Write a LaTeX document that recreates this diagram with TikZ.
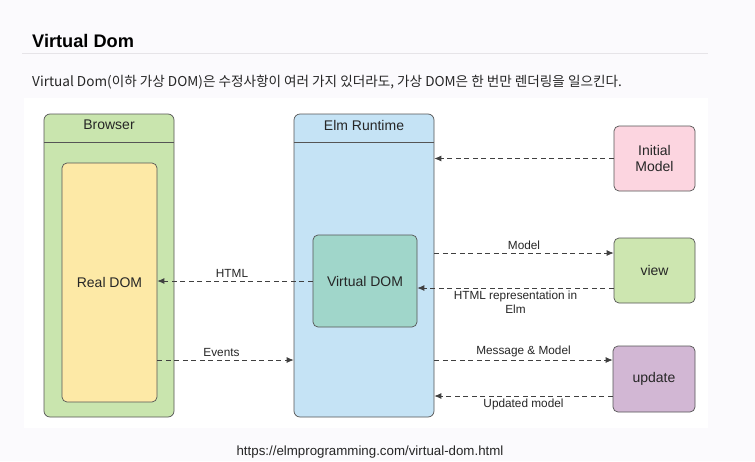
\documentclass[tikz,border=0pt]{standalone}
\usepackage{fontspec}
\setmainfont{Liberation Sans}
\newfontfamily\krfont{Noto Sans CJK KR}
\usetikzlibrary{arrows.meta}
\definecolor{pagebg}{HTML}{FBFAFD}
\definecolor{rulegray}{HTML}{E6E4E8}
\definecolor{edgecol}{HTML}{555555}
\definecolor{browsercol}{HTML}{C9E5AE}
\definecolor{realcol}{HTML}{FDE9A6}
\definecolor{runtimecol}{HTML}{C5E3F5}
\definecolor{vdomcol}{HTML}{A0D6CA}
\definecolor{initcol}{HTML}{FCD5E0}
\definecolor{viewcol}{HTML}{CDE6B0}
\definecolor{updatecol}{HTML}{D2B7D4}

\begin{document}
\begin{tikzpicture}[x=1pt, y=-1pt,
    box/.style={draw=edgecol, line width=0.7pt, rounded corners=5pt, align=center,
                font=\fontsize{14}{16.5}\selectfont, text=black!85},
    panel/.style={box, rounded corners=6pt},
    flow/.style={draw=black!75, line width=0.8pt, dash pattern=on 5pt off 3.5pt,
                 -{Latex[length=7pt,width=6pt]}},
    lbl/.style={font=\fontsize{11.8}{13.5}\selectfont, text=black!85, align=center, inner sep=2pt},
    ]
    % page and sheet
    \fill[pagebg] (0,0) rectangle (755,461);
    \fill[white] (24,98) rectangle (708,428);
    \useasboundingbox (0,0) rectangle (755,461);

    % heading
    \node[anchor=base west, font=\fontsize{18.2}{21}\bfseries\selectfont, inner sep=0pt] (title) at (32,47) {Virtual Dom};
    \draw[rulegray, line width=0.8pt] (22,53.5) -- (708,53.5);
    \node[anchor=base west, inner sep=0pt, font=\krfont\fontsize{13.6}{16}\selectfont, text=black!85] (intro) at (32,86)
        {Virtual Dom(이하 가상 DOM)은 수정사항이 여러 가지 있더라도, 가상 DOM은 한 번만 렌더링을 일으킨다.};

    % containers
    \node[panel, fill=browsercol, minimum width=130pt, minimum height=303pt] (browser) at (109,265.5) {};
    \node[box, draw=none, anchor=north] at (browser.north) [yshift=-3pt] {Browser};
    \draw[edgecol, line width=0.7pt] (browser.west |- 0,142) -- (browser.east |- 0,142);

    \node[panel, fill=runtimecol, minimum width=140pt, minimum height=303pt] (runtime) at (364,265.5) {};
    \node[box, draw=none, anchor=north] at (runtime.north) [yshift=-3pt] {Elm Runtime};
    \draw[edgecol, line width=0.7pt] (runtime.west |- 0,142) -- (runtime.east |- 0,142);

    % inner boxes
    \node[box, fill=realcol, minimum width=95pt, minimum height=239pt] (realdom) at (109.5,282.5) {Real DOM};
    \node[box, fill=vdomcol, minimum width=104pt, minimum height=92pt] (vdom) at (365,281) {Virtual DOM};

    % program parts
    \node[box, fill=initcol, minimum width=81pt, minimum height=65pt] (init) at (654.5,158.5) {Initial\\Model};
    \node[box, fill=viewcol, minimum width=81pt, minimum height=65pt] (view) at (654.5,270.5) {view};
    \node[box, fill=updatecol, minimum width=82pt, minimum height=66pt] (update) at (654,379) {update};

    % connectors
    \coordinate (modelpt) at ([yshift=17.5pt]view.west);
    \coordinate (reppt) at ([yshift=-17.5pt]view.west);
    \coordinate (msgpt) at ([yshift=19pt]update.west);
    \coordinate (updpt) at ([yshift=-17pt]update.west);

    \draw[flow] (init.west) -- (init.west -| runtime.east);
    \draw[flow] (modelpt -| runtime.east) -- node[lbl, above=1pt] {Model} (modelpt);
    \draw[flow] (reppt) -- node[lbl, below=1pt] {HTML representation in\\Elm} (reppt -| vdom.east);
    \draw[flow] (msgpt -| runtime.east) -- node[lbl, above=1pt] {Message \& Model} (msgpt);
    \draw[flow] (updpt) -- node[lbl, below=1pt] {Updated model} (updpt -| runtime.east);
    \draw[flow] (vdom.west) -- node[lbl, above=1pt, xshift=-3pt] {HTML} (vdom.west -| realdom.east);
    \draw[flow] (msgpt -| realdom.east) -- node[lbl, above=1pt, xshift=-4pt] {Events} (msgpt -| runtime.west);

    % source
    \node[anchor=base, font=\fontsize{13.3}{15}\selectfont, text=black!85] (source) at (370,455) {https://elmprogramming.com/virtual-dom.html};
\end{tikzpicture}
\end{document}
